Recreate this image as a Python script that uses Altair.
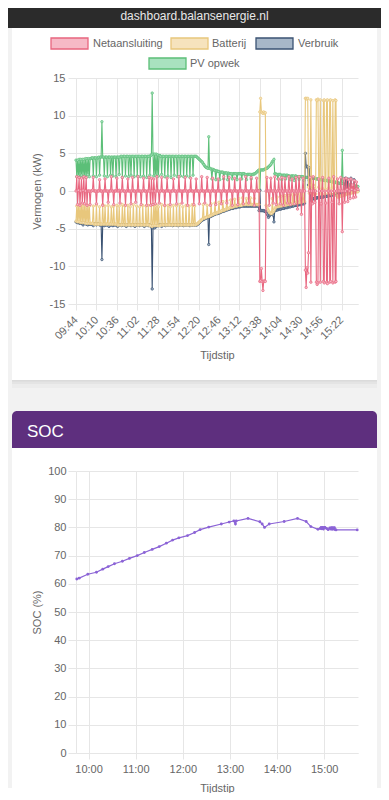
import altair as alt
import pandas as pd

FONT = "Liberation Sans, Arial, Helvetica, sans-serif"

# ---------------- data: power chart (one reading per minute) ----------------
series_names = ["Netaansluiting", "Batterij", "Verbruik", "PV opwek"]
line_colors = ["#e8667f", "#e8c77c", "#3b5373", "#5cbf78"]
fill_colors = ["#f6b9c6", "#f6e3bd", "#a7b7c8", "#a9e2bf"]

power_first_time = "09:44"
power_interval_min = 1
power_count = 360

netaansluiting = [
    0.0, 1.9, -1.8, 0.1, 1.8, -1.9, 0.0, 1.7, -1.6, 0.1, 1.9, -1.7, 0.0, 1.8, -1.9, 0.0, 0.0, 0.0, -1.8, 0.0,
    0.0, 0.1, 1.8, 0.0, 0.0, 0.0, -1.7, 0.0, 0.0, 0.0, 1.5, 0.0, 0.0, 0.0, -1.9, 0.0, 0.0, 1.6, 0.0, 0.0,
    0.0, -1.5, 0.0, 0.0, 0.0, 1.9, 0.0, 0.0, -1.8, 0.0, 0.0, 0.0, 1.7, 0.0, 0.0, 0.1, -1.6, 0.0, 0.0, 1.8,
    0.0, 0.0, 0.0, -1.9, 0.0, 0.0, 1.6, 0.0, 0.0, 0.0, -1.7, 0.0, 1.8, 0.0, 0.0, 0.0, -1.5, 0.0, 0.0, 1.9,
    0.0, 0.0, 0.0, -1.8, 0.0, 0.0, 1.7, 0.0, 0.0, 0.0, -1.9, 0.0, 0.0, 1.8, 0.0, -1.9, 1.7, 0.0, -1.8, 1.6,
    0.0, -1.7, 0.0, 1.9, 0.0, 0.0, -1.6, 0.0, 0.0, 1.8, 0.0, 0.0, 0.0, -1.9, 0.0, 0.0, 1.7, 0.0, 0.0, 0.0,
    -1.8, 0.0, 0.0, 0.0, 1.6, 0.0, 0.0, 0.0, -1.7, 0.0, 0.0, 1.9, 0.0, 0.0, 0.0, -1.6, 0.0, 0.0, 0.0, 1.8,
    0.0, 0.0, -1.9, 0.0, 0.0, 0.0, 1.7, 0.0, 0.0, 0.0, -1.8, 0.0, 0.0, 1.6, 0.0, 0.0, 0.0, -1.7, 0.0, 0.0,
    1.9, 0.0, 0.0, 0.0, -1.6, 0.0, 0.0, 1.8, 0.0, 0.0, 0.0, -1.9, 0.0, 0.0, 1.7, 0.0, 0.0, 0.0, -1.8, 0.0,
    0.0, 1.6, 0.0, 0.0, 0.0, -1.7, 0.0, 0.0, 1.9, 0.0, 0.0, 0.0, -1.6, 0.0, 0.0, 1.8, 0.0, 0.0, 0.0, -1.9,
    0.0, 0.0, 1.7, 0.0, 0.0, 0.0, -1.8, 0.0, 0.0, 1.6, 0.0, 0.0, 0.0, -1.7, 0.0, 0.0, 1.9, 0.0, 0.0, 0.0,
    -1.6, 0.0, 0.0, 1.8, 0.0, 0.0, 0.0, -1.9, 0.0, 0.0, 1.7, 0.0, 0.0, 0.0, -12.0, -11.9, -10.3, -12.0, -13.2, -12.0,
    -11.9, -12.0, 0.0, 1.8, 0.0, 0.0, -1.9, 0.0, 1.7, 0.0, 0.0, -1.6, 0.0, 1.9, 0.0, -1.8, 0.0, 0.0, 1.6, 0.0,
    -1.7, 0.0, 1.8, 0.0, -1.9, 0.0, 1.7, 0.0, 0.0, -1.6, 0.0, 1.9, 0.0, -1.8, 0.0, 1.6, 0.0, 0.0, -1.7, 0.0,
    1.8, 0.0, -2.4, 0.0, 1.9, 0.0, 0.0, -3.1, 0.0, 1.7, 0.0, 0.0, -10.5, -12.8, -10.2, -10.9, -8.2, 0.0, 1.8, -12.1,
    0.0, -1.7, 1.9, 0.0, -1.5, 0.0, -12.1, -12.4, -12.2, 1.6, 0.0, -12.1, -1.7, 0.0, 1.8, -12.0, -12.2, 0.0, -1.6, -12.1,
    -12.3, 0.0, 1.7, -12.1, -12.0, 0.0, -1.5, -12.2, 1.9, 0.0, -12.1, -12.0, 0.0, 1.6, 0.0, -1.7, 0.0, 1.8, 0.0, -5.4,
    0.0, 1.6, -1.5, 0.0, 1.7, 0.2, -1.4, 1.5, 0.0, -1.0, 1.6, 0.2, 0.8, -0.9, 1.4, 0.1, -0.8, 1.2, 0.3, 0.2,
]

batterij = [
    -4.0, -2.0, -4.1, -1.9, -4.1, -2.1, -4.2, -1.8, -4.2, -2.0, -4.2, -1.9, -4.3, -2.1, -4.3, -1.9, -4.3, -2.0, -4.3, -4.3,
    -4.3, -4.3, -2.0, -4.4, -4.4, -4.4, -1.9, -4.4, -4.4, -4.4, -2.1, -4.4, -4.4, -4.4, -1.8, -4.4, -4.4, -2.0, -4.4, -4.4,
    -4.4, -1.9, -4.4, -4.4, -4.4, -2.1, -4.4, -4.4, -2.0, -4.4, -4.4, -4.4, -1.9, -4.5, -4.5, -2.0, -4.5, -4.5, -4.5, -1.8,
    -4.5, -4.5, -2.0, -4.5, -4.5, -4.5, -1.9, -4.5, -4.5, -2.1, -4.5, -4.5, -4.5, -1.8, -4.5, -4.5, -4.5, -2.0, -4.5, -4.5,
    -4.5, -2.1, -4.5, -4.5, -4.5, -1.9, -4.5, -4.5, -4.5, -2.0, -4.5, -4.5, -1.9, -4.5, -4.6, -4.6, -1.8, -4.7, -4.6, -1.9,
    -4.6, -2.0, -4.6, -1.9, -4.6, -2.1, -4.6, -4.6, -4.5, -1.8, -4.5, -4.5, -4.5, -2.0, -4.5, -4.5, -4.5, -1.9, -4.5, -4.5,
    -2.1, -4.5, -4.5, -4.5, -1.9, -4.5, -4.5, -4.5, -2.0, -4.5, -4.5, -4.5, -1.8, -4.5, -4.5, -4.5, -2.1, -4.5, -4.5, -4.5,
    -1.9, -4.5, -4.5, -4.5, -2.0, -4.5, -4.5, -4.5, -1.8, -4.5, -4.5, -2.0, -4.5, -4.4, -4.4, -4.3, -4.2, -4.1, -4.0, -3.9,
    -3.8, -3.7, -1.8, -3.6, -3.6, -3.5, -3.5, -1.9, -3.4, -3.4, -3.3, -3.3, -1.7, -3.2, -3.1, -3.1, -3.0, -1.6, -3.0, -2.9,
    -2.9, -2.8, -1.5, -2.8, -2.7, -2.7, -2.6, -1.4, -2.6, -2.5, -2.5, -2.4, -1.3, -2.4, -2.3, -2.3, -2.2, -1.2, -2.2, -2.1,
    -2.1, -2.1, -1.1, -2.0, -2.0, -2.0, -1.9, -1.0, -1.9, -1.9, -1.9, -1.9, -0.9, -1.8, -1.8, -1.8, -1.8, -1.0, -1.8, -1.8,
    -1.8, -1.8, -0.9, -1.8, -1.8, -1.8, -1.8, -1.0, -1.8, -1.8, -1.8, -1.8, -1.8, -1.8, 10.5, 12.3, 10.5, 10.4, 10.3, 10.5,
    10.3, 10.4, -1.9, -2.2, -2.4, -2.6, -2.8, -2.9, -3.0, -3.0, -1.0, -2.8, -2.6, -2.4, -2.2, -2.1, -0.8, -2.1, -2.0, -2.0,
    -2.0, -0.7, -2.0, -1.9, -1.9, -1.9, -0.6, -1.9, -1.8, -1.8, -1.8, -0.6, -1.8, -1.7, -1.7, -1.7, -0.5, -1.7, -1.6, -1.6,
    -1.6, -0.5, -1.6, -1.5, -1.5, -0.4, -1.5, -1.5, -1.4, -0.4, -1.4, -1.4, 12.3, 12.3, 12.2, 12.3, 0.5, -0.3, 0.8, 12.1,
    -0.3, 0.2, 0.8, -0.5, 0.3, -0.4, 12.1, 12.0, 12.2, 0.5, -0.3, 12.1, 0.2, -0.5, 0.3, 12.0, 12.1, -0.4, 0.2, 12.0,
    12.1, -0.3, 0.4, 12.0, 12.1, -0.4, 0.2, 12.0, 0.5, -0.3, 12.1, 12.0, -0.6, -0.8, -0.8, -0.7, -0.7, -0.7, -0.6, -0.6,
    -0.6, -0.5, -0.5, -0.5, -0.4, -0.4, -0.4, -0.3, -0.3, -0.3, -0.3, -0.2, -0.2, -0.2, -0.2, -0.1, -0.1, -0.1, -0.1, -0.1,
]

verbruik = [
    -4.1, -4.1, -4.2, -4.2, -4.2, -4.3, -4.2, -4.3, -4.3, -4.5, -4.3, -4.3, -4.3, -4.4, -4.4, -4.5, -4.4, -4.4, -4.4, -4.4,
    -4.4, -4.4, -4.6, -4.4, -4.4, -4.4, -4.5, -4.4, -4.4, -4.4, -4.5, -4.5, -4.5, -9.1, -4.5, -4.5, -4.6, -4.5, -4.5, -4.5,
    -4.5, -4.5, -4.7, -4.5, -4.5, -4.5, -4.5, -4.6, -4.5, -4.5, -4.5, -4.5, -4.5, -4.7, -4.5, -4.5, -4.5, -4.5, -4.6, -4.5,
    -4.5, -4.5, -4.5, -4.5, -4.7, -4.5, -4.5, -4.5, -4.5, -4.5, -4.6, -4.5, -4.5, -4.5, -4.5, -4.7, -4.5, -4.5, -4.5, -4.5,
    -4.5, -4.6, -4.5, -4.5, -4.5, -4.5, -4.5, -4.7, -4.5, -4.5, -4.5, -4.5, -4.6, -4.5, -4.5, -4.6, -4.8, -13.0, -4.9, -4.8,
    -4.9, -4.8, -4.7, -4.6, -4.6, -4.6, -4.5, -4.5, -4.5, -4.7, -4.5, -4.5, -4.5, -4.5, -4.6, -4.5, -4.5, -4.5, -4.5, -4.5,
    -4.5, -4.5, -4.5, -4.6, -4.5, -4.5, -4.5, -4.5, -4.5, -4.5, -4.6, -4.5, -4.5, -4.5, -4.5, -4.5, -4.5, -4.6, -4.5, -4.5,
    -4.5, -4.5, -4.5, -4.5, -4.5, -4.6, -4.5, -4.5, -4.5, -4.5, -4.5, -4.5, -4.5, -4.5, -4.5, -4.4, -4.3, -4.2, -4.1, -4.0,
    -3.9, -3.8, -3.8, -3.7, -3.7, -3.6, -3.6, -3.5, -3.5, -7.1, -3.4, -3.4, -3.3, -3.3, -3.2, -3.2, -3.1, -3.1, -3.0, -3.0,
    -3.0, -2.9, -2.9, -2.9, -2.8, -2.8, -2.7, -2.7, -2.7, -2.6, -2.6, -2.5, -2.5, -2.5, -2.4, -2.4, -2.4, -2.3, -2.3, -2.3,
    -2.3, -2.2, -2.2, -2.2, -2.2, -2.1, -2.1, -2.1, -2.1, -2.1, -2.0, -2.0, -2.0, -2.0, -2.0, -2.0, -2.0, -2.0, -2.0, -2.0,
    -2.0, -2.0, -2.0, -2.0, -2.0, -2.0, -2.0, -2.0, -2.0, -2.0, -2.0, -2.0, -2.0, -2.6, 0.1, -2.6, -2.6, -2.6, -2.6, -2.6,
    -2.7, -2.7, -2.8, -3.0, -3.2, -3.5, -3.3, -3.2, -3.1, -3.0, -3.0, -3.2, -4.1, -2.6, -2.6, -2.5, -2.5, -2.5, -2.4, -2.4,
    -2.4, -2.4, -2.3, -2.3, -2.3, -2.3, -2.2, -2.2, -2.2, -2.2, -2.1, -2.1, -2.1, -2.1, -2.0, -2.0, -2.0, -2.0, -1.9, -1.9,
    -1.9, -1.9, -1.9, -1.8, -1.8, -1.8, -1.8, -1.7, -1.7, -1.7, -1.7, -1.6, 5.0, 3.2, 3.3, 3.2, 0.8, 3.1, 0.5, -1.2,
    -1.1, -1.1, -1.0, -1.0, -1.0, -1.0, -0.9, -0.9, -0.9, -0.9, -0.9, -0.8, -0.8, -0.8, -0.8, -0.8, -0.7, -0.7, -0.7, -0.7,
    -0.7, -0.6, -0.6, -0.6, -0.6, -0.6, -0.5, -0.5, -0.5, -0.5, -0.5, -0.4, -0.4, -0.4, -0.4, -0.4, -0.3, -0.3, -0.3, -0.3,
    -0.3, -0.2, -0.2, 1.7, -0.2, -0.1, 1.6, -0.1, -0.1, 0.0, 1.7, 0.0, 0.0, 0.0, 1.5, 0.0, 0.0, 0.0, 0.0, 0.0,
]

pv_opwek = [
    4.1, 1.9, 4.1, 2.0, 4.2, 1.8, 4.2, 2.1, 4.2, 1.9, 4.2, 2.0, 4.3, 1.8, 4.3, 2.2, 4.3, 1.9, 4.3, 4.3,
    4.4, 4.4, 2.0, 4.4, 4.4, 4.4, 1.9, 4.4, 4.4, 4.5, 2.1, 4.5, 4.5, 9.2, 4.5, 4.5, 2.0, 4.5, 4.5, 4.5,
    1.9, 4.5, 4.5, 4.5, 2.1, 4.5, 4.5, 2.0, 4.5, 4.5, 4.5, 1.9, 4.5, 4.5, 4.5, 2.2, 4.5, 4.6, 4.6, 1.8,
    4.6, 4.6, 4.6, 2.0, 4.6, 4.6, 4.6, 1.9, 4.6, 4.6, 2.1, 4.6, 4.6, 4.6, 1.9, 4.6, 4.6, 4.6, 2.0, 4.6,
    4.6, 4.6, 1.9, 4.6, 4.6, 4.6, 2.0, 4.6, 4.6, 4.6, 1.8, 4.6, 4.6, 4.6, 2.1, 4.7, 4.8, 13.0, 4.9, 2.0,
    4.9, 2.1, 4.9, 1.9, 4.8, 2.0, 4.7, 4.7, 4.6, 2.2, 4.6, 4.6, 4.6, 1.9, 4.6, 4.6, 4.6, 2.0, 4.6, 4.6,
    4.6, 1.8, 4.6, 4.6, 4.6, 2.1, 4.6, 4.6, 4.6, 1.9, 4.6, 4.6, 4.6, 2.0, 4.6, 4.6, 4.6, 1.9, 4.6, 4.6,
    4.6, 2.0, 4.6, 4.6, 4.6, 1.8, 4.6, 4.6, 4.6, 2.1, 4.6, 4.6, 4.6, 4.6, 4.5, 4.4, 4.3, 4.2, 4.1, 4.0,
    3.9, 3.8, 3.6, 3.5, 3.3, 3.2, 3.1, 3.1, 3.0, 7.2, 3.0, 3.0, 2.9, 1.6, 2.9, 2.8, 2.8, 2.7, 1.5, 2.7,
    2.6, 2.6, 2.6, 1.5, 2.5, 2.5, 2.5, 2.5, 1.6, 2.4, 2.4, 2.4, 2.4, 1.5, 2.4, 2.3, 2.3, 2.3, 2.3, 1.6,
    2.3, 2.3, 2.3, 2.3, 2.3, 1.5, 2.3, 2.3, 2.3, 2.3, 2.3, 1.6, 2.3, 2.3, 2.3, 2.2, 2.2, 1.5, 2.2, 2.2,
    2.2, 2.2, 2.2, 1.6, 2.2, 2.2, 2.2, 2.3, 2.3, 2.4, 2.5, 2.6, 2.7, 2.8, 0.1, 2.8, 2.8, 2.8, 2.8, 2.8,
    2.9, 2.9, 3.0, 3.0, 3.1, 3.2, 3.3, 3.4, 3.5, 3.7, 3.9, 4.0, 4.2, 2.3, 2.3, 2.2, 2.2, 1.6, 2.2, 2.2,
    2.2, 2.1, 1.5, 2.1, 2.1, 2.1, 2.1, 1.6, 2.1, 2.1, 2.0, 2.0, 2.0, 1.5, 2.0, 2.0, 2.0, 2.0, 1.4, 2.0,
    2.0, 1.9, 1.9, 1.9, 1.5, 1.9, 1.9, 1.9, 1.9, 1.9, 1.4, 1.8, 1.8, 1.8, 1.8, 1.8, 1.8, 1.4, 1.8, 1.7,
    1.7, 1.7, 1.7, 1.7, 1.7, 1.6, 1.6, 1.6, 1.6, 1.6, 1.5, 1.5, 1.5, 1.5, 1.5, 1.5, 1.4, 1.4, 1.4, 1.4,
    1.4, 1.3, 1.3, 1.3, 1.3, 1.3, 1.2, 1.2, 1.2, 1.2, 1.2, 1.1, 1.1, 1.1, 1.1, 1.0, 1.0, 1.0, 1.0, 5.4,
    1.0, 0.9, 0.9, 0.9, 0.9, 0.9, 0.8, 0.8, 0.8, 0.8, 0.8, 0.7, 0.7, 0.7, 0.7, 0.7, 0.6, 0.6, 0.6, 0.6,
]

power_x_ticks = ["09:44", "10:10", "10:36", "11:02", "11:28", "11:54", "12:20",
                 "12:46", "13:12", "13:38", "14:04", "14:30", "14:56", "15:22"]
power_y_ticks = [-15, -10, -5, 0, 5, 10, 15]

# ---------------- data: SOC chart ----------------
soc_times = ["09:45", "09:48", "09:59", "10:10", "10:18", "10:25", "10:33", "10:43", "10:52",
             "11:02", "11:11", "11:21", "11:30", "11:39", "11:47", "11:55", "12:06", "12:15",
             "12:22", "12:33", "12:49", "12:59", "13:05", "13:07", "13:08", "13:23", "13:38",
             "13:41", "13:44", "13:50", "14:09", "14:26", "14:37", "14:43", "14:52", "14:55",
             "14:56", "14:57", "14:58", "14:59", "15:00", "15:01", "15:03", "15:05", "15:07",
             "15:08", "15:09", "15:10", "15:11", "15:12", "15:13", "15:14", "15:15", "15:42"]
soc_values = [61.7, 62.0, 63.4, 64.1, 65.2, 66.1, 67.1, 68.0, 69.0, 70.0,
              71.1, 72.2, 73.2, 74.4, 75.5, 76.3, 77.1, 78.2, 79.2, 80.1,
              81.2, 81.9, 82.3, 81.2, 82.3, 83.2, 82.0, 81.2, 80.0, 81.2,
              82.1, 83.2, 82.1, 80.3, 79.3, 79.6, 80.0, 79.5, 80.0, 79.4,
              80.0, 80.0, 79.6, 79.2, 79.8, 79.4, 79.9, 79.3, 79.9, 79.4,
              79.9, 79.2, 79.1, 79.1]
soc_x_ticks = ["10:00", "11:00", "12:00", "13:00", "14:00", "15:00"]
soc_y_ticks = [0, 10, 20, 30, 40, 50, 60, 70, 80, 90, 100]
soc_color = "#8b63d6"

time_domain = ["09:44", "15:43"]

for s in (netaansluiting, batterij, verbruik, pv_opwek):
    assert len(s) == power_count, len(s)
assert len(soc_times) == len(soc_values)


def to_min(t):
    h, m = t.split(":")
    return int(h) * 60 + int(m)


power_minutes = [to_min(power_first_time) + power_interval_min * i for i in range(power_count)]
domain_min = [to_min(t) for t in time_domain]

LABEL_EXPR = ("(datum.value < 600 ? '0' : '') + floor(datum.value / 60) + ':' + "
              "(datum.value % 60 < 10 ? '0' : '') + (datum.value % 60)")

axis_common = dict(
    gridColor="#e6e6e6", tickColor="#e6e6e6", domainColor="#e6e6e6",
    labelColor="#666666", labelFontSize=11, labelFont=FONT,
    titleColor="#666666", titleFontSize=11, titleFont=FONT, titleFontWeight="normal",
    labelOverlap=False,
)

PW, PH = 282, 226     # power plot size
SW, SH = 282, 282     # SOC plot size

one = pd.DataFrame({"k": [0]})


def box(x1, x2, y1, y2, color, opacity=1.0, **kw):
    return alt.Chart(one).mark_rect(color=color, opacity=opacity, strokeWidth=0, **kw).encode(
        x=alt.value(x1), x2=alt.value(x2), y=alt.value(y1), y2=alt.value(y2))


def label(txt, x, y, size=11, color="#666666", align="left", baseline="middle"):
    return alt.Chart(one).mark_text(text=txt, font=FONT, fontSize=size, color=color,
                                    align=align, baseline=baseline).encode(
        x=alt.value(x), y=alt.value(y))


PAGE_GRAY = "#f2f2f2"

# ---------------- panel 1: power ----------------
x_power = alt.X("minute:Q", scale=alt.Scale(domain=domain_min, nice=False, zero=False),
                axis=alt.Axis(values=[to_min(t) for t in power_x_ticks], labelExpr=LABEL_EXPR,
                              labelAngle=-45, labelAlign="right", labelBaseline="middle",
                              tickSize=6, labelPadding=8, labelFlush=False,
                              title="Tijdstip", titleX=PW / 2, titleY=51,
                              titleAlign="center", titleBaseline="middle", **axis_common))
y_power = alt.Y("kw:Q", scale=alt.Scale(domain=[-15, 15], nice=False),
                axis=alt.Axis(values=power_y_ticks, labelExpr="'' + datum.value",
                              tickSize=8, labelPadding=3,
                              title="Vermogen (kW)", titleX=-39, titleY=PH / 2, titleAngle=270,
                              titleAlign="center", titleBaseline="middle", **axis_common))

deco1 = [
    box(-68, 305, -70, -50, "#2b2b2b"),
    label("dashboard.balansenergie.nl", 118.5, -58.5, size=12, color="#e8e8e8",
          align="center", baseline="alphabetic"),
    box(-68, -64, -50, 302, PAGE_GRAY),
    box(301, 305, -50, 302, PAGE_GRAY),
    box(-68, 305, 302, 333, PAGE_GRAY),
    box(-64, 301, 302, 310, "#000000", opacity=0.025),
    box(-64, 301, 302, 306, "#000000", opacity=0.03),
    box(-64, 301, 302, 303.5, "#000000", opacity=0.04),
]

legend_pos = {  # box x1, box y1, label x, label y (relative to plot)
    "Netaansluiting": (-25, -40, 17, -34.5),
    "Batterij": (95, -40, 136, -34.5),
    "Verbruik": (180, -40, 222, -34.5),
    "PV opwek": (73, -20, 114, -14.5),
}
legend_layers = []
for name, lc, fc in zip(series_names, line_colors, fill_colors):
    bx, by, lx, ly = legend_pos[name]
    legend_layers.append(
        alt.Chart(one).mark_rect(fill=fc, stroke=lc, strokeWidth=1.3).encode(
            x=alt.value(bx), x2=alt.value(bx + 37), y=alt.value(by), y2=alt.value(by + 11)))
    legend_layers.append(label(name, lx, ly))

series_values = dict(zip(series_names, [netaansluiting, batterij, verbruik, pv_opwek]))
data_layers = []
for idx in [3, 2, 1, 0]:  # Chart.js draws the first dataset on top
    name = series_names[idx]
    df = pd.DataFrame({"minute": power_minutes, "kw": series_values[name]})
    base = alt.Chart(df).encode(x=x_power, y=y_power)
    data_layers.append(base.mark_line(color=line_colors[idx], strokeWidth=1.1))
    data_layers.append(base.mark_circle(size=6, color=fill_colors[idx], stroke=line_colors[idx],
                                        strokeWidth=0.7, opacity=1))

panel1 = alt.layer(*deco1, *legend_layers, *data_layers).properties(width=PW, height=PH)

# ---------------- panel 2: SOC ----------------
x_soc = alt.X("minute:Q", scale=alt.Scale(domain=domain_min, nice=False, zero=False),
              axis=alt.Axis(values=[to_min(t) for t in soc_x_ticks], labelExpr=LABEL_EXPR,
                            labelAngle=0, labelAlign="center", labelBaseline="top",
                            tickSize=6, labelPadding=4, labelFlush=False,
                            title="Tijdstip", titleX=SW / 2, titleY=35,
                            titleAlign="center", titleBaseline="middle", **axis_common))
y_soc = alt.Y("soc:Q", scale=alt.Scale(domain=[0, 100], nice=False),
              axis=alt.Axis(values=soc_y_ticks, tickSize=8, labelPadding=2,
                            title="SOC (%)", titleX=-39, titleY=SH / 2, titleAngle=270,
                            titleAlign="center", titleBaseline="middle", **axis_common))

deco2 = [
    box(-68, 305, -60, -50, PAGE_GRAY),
    box(-68, -64, -60, 317, PAGE_GRAY),
    box(301, 305, -60, 317, PAGE_GRAY),
    box(-64, 301, -60, -23, "#5e2f7e", cornerRadiusTopLeft=5, cornerRadiusTopRight=5),
    label("SOC", -49, -34.5, size=17, color="#ffffff", baseline="alphabetic"),
]

soc_df = pd.DataFrame({"minute": [to_min(t) for t in soc_times], "soc": soc_values})
soc_base = alt.Chart(soc_df).encode(x=x_soc, y=y_soc)
soc_layers = [
    soc_base.mark_line(color=soc_color, strokeWidth=1.2),
    soc_base.mark_circle(size=8, color=soc_color, opacity=1),
]

panel2 = alt.layer(*deco2, *soc_layers).properties(width=SW, height=SH)

chart = alt.vconcat(panel1, panel2, spacing=0, padding=0, background="#ffffff").configure(
    font=FONT, view=alt.ViewConfig(strokeWidth=0))

chart.save("out.html", embed_options={"renderer": "svg", "actions": False})
